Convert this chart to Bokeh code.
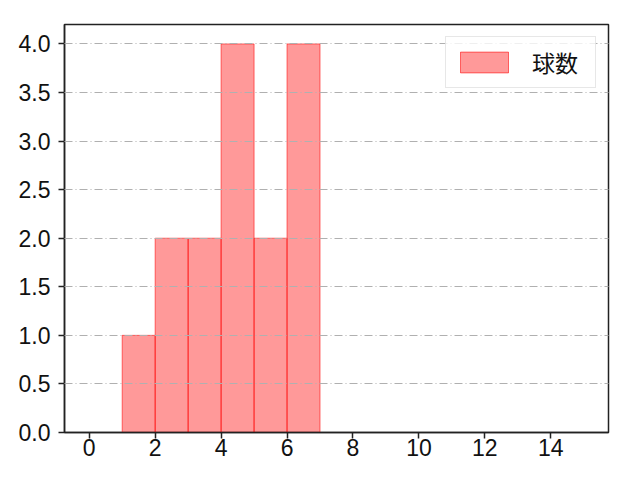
from bokeh.plotting import figure
from bokeh.models import ColumnDataSource, FixedTicker, PrintfTickFormatter, Range1d, Legend, LegendItem
from bokeh.embed import file_html
from bokeh.resources import INLINE

bin_left = [1, 2, 3, 4, 5, 6]
bin_right = [2, 3, 4, 5, 6, 7]
counts = [1, 2, 2, 4, 2, 4]
x_ticks = [0, 2, 4, 6, 8, 10, 12, 14]
y_ticks = [0.0, 0.5, 1.0, 1.5, 2.0, 2.5, 3.0, 3.5, 4.0]
label = "球数"

TICK_FONT = "Liberation Sans"
CJK_FONT = "Noto Sans CJK JP"

p = figure(width=624, height=464, output_backend="svg", toolbar_location=None,
           x_range=Range1d(-0.75, 15.75), y_range=Range1d(0, 4.2),
           min_border_left=64, min_border_right=16, min_border_top=24, min_border_bottom=32)

src = ColumnDataSource(dict(left=bin_left, right=bin_right, top=counts, bottom=[0]*len(counts)))
r = p.quad(left="left", right="right", top="top", bottom="bottom", source=src,
           fill_color="#ff0000", fill_alpha=0.4, line_color="#ff0000", line_alpha=0.55, line_width=1)

p.outline_line_color = "#222222"
p.outline_line_width = 1.5
p.outline_line_alpha = 1

p.xgrid.visible = False
p.ygrid.grid_line_color = "#b0b0b0"
p.ygrid.grid_line_dash = "8 3 1 3"
p.ygrid.grid_line_width = 1
p.ygrid.level = "guide"

for ax in (p.xaxis[0], p.yaxis[0]):
    ax.axis_line_color = "#222222"
    ax.axis_line_width = 1.5
    ax.major_tick_line_color = "#222222"
    ax.major_tick_line_width = 1.5
    ax.major_tick_out = 6
    ax.major_tick_in = 0
    ax.minor_tick_line_color = None
    ax.major_label_text_font = TICK_FONT
    ax.major_label_text_font_size = "23px"
    ax.major_label_text_color = "#111111"

p.xaxis.ticker = FixedTicker(ticks=x_ticks)
p.yaxis.ticker = FixedTicker(ticks=y_ticks)
p.yaxis.formatter = PrintfTickFormatter(format="%.1f")
p.xaxis.major_label_standoff = 0
p.yaxis.major_label_standoff = 8

legend = Legend(items=[LegendItem(label=label, renderers=[r])], location="top_right")
legend.label_text_font = CJK_FONT
legend.label_text_font_size = "23px"
legend.label_text_color = "#111111"
legend.glyph_width = 60
legend.glyph_height = 26
legend.label_standoff = 18
legend.label_width = 55
legend.label_height = 30
legend.padding = 8
legend.margin = 12
legend.border_line_color = "#d0d0d0"
legend.border_line_width = 1
legend.background_fill_alpha = 0.8
p.add_layout(legend)

open("out.html", "w").write(file_html(p, INLINE))
